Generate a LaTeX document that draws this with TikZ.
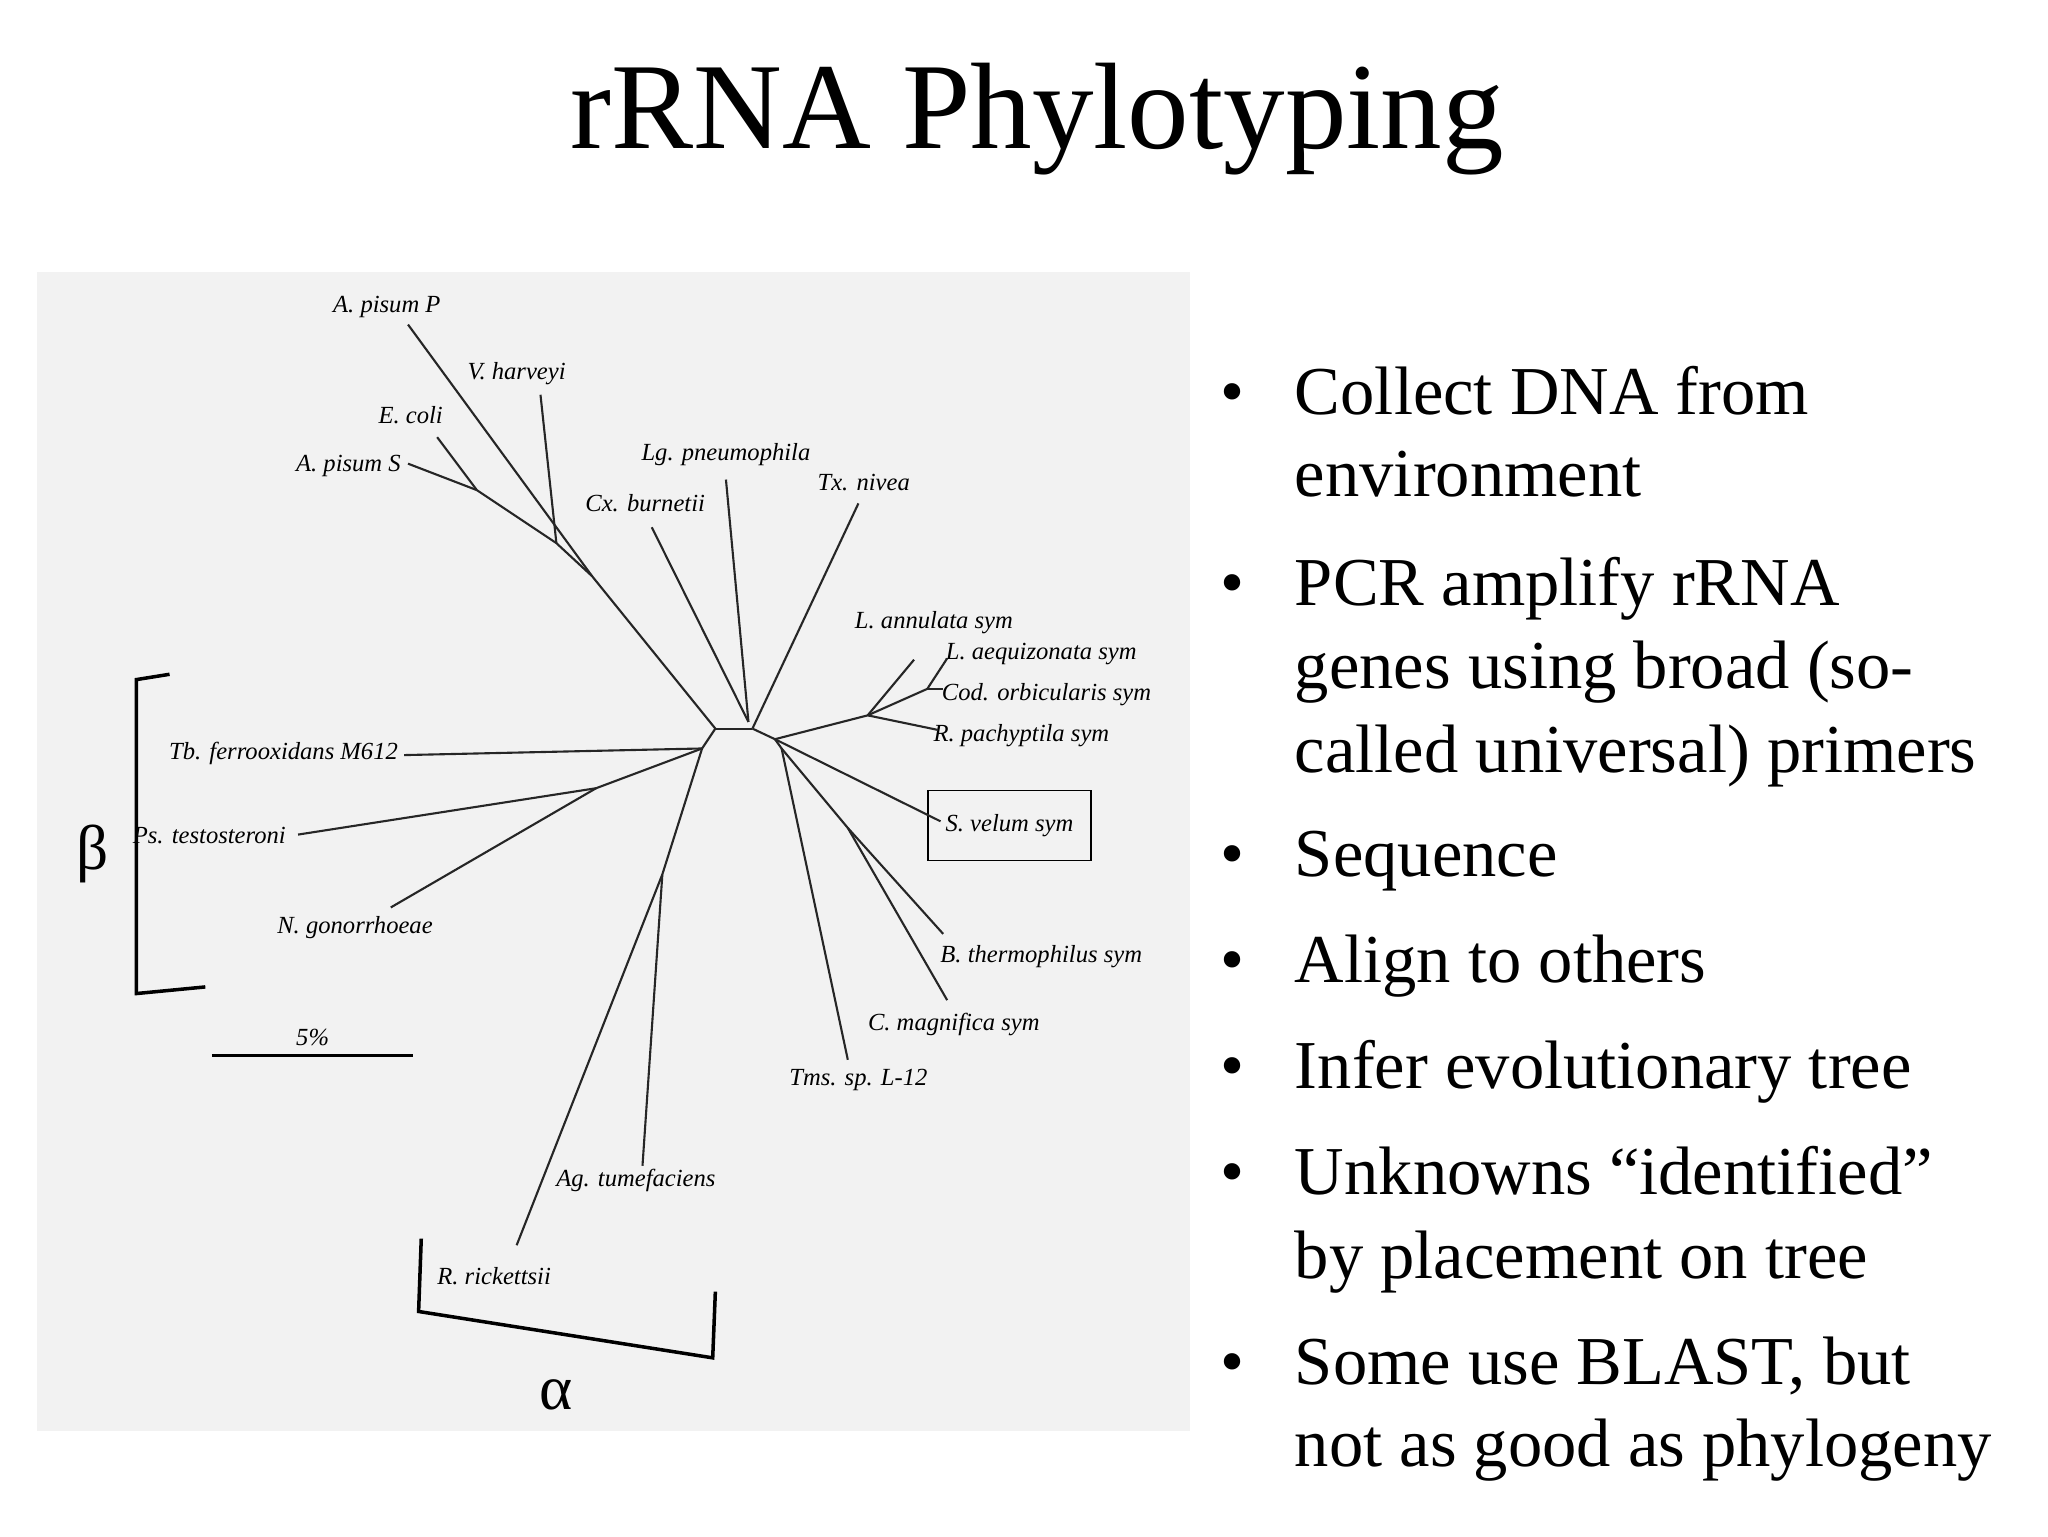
\documentclass[tikz,border=0pt]{standalone}
\usepackage{fontspec}
\setmainfont{Liberation Serif}
\begin{document}
\begin{tikzpicture}[x=0.013247cm,y=-0.013247cm,
 br/.style={line width=0.6pt,black!85},
 lb/.style={font=\fontsize{7}{8}\selectfont\itshape,inner sep=1pt},
 bl/.style={font=\fontsize{19.5}{22}\selectfont,anchor=base west,inner sep=0pt},
 bu/.style={font=\fontsize{19.5}{22}\selectfont,anchor=base,inner sep=0pt}]
\useasboundingbox (0,0) rectangle (1546,1160);
\fill[white] (0,0) rectangle (1546,1160);
\fill[black!5] (28,205) rectangle (898,1080);
\node[font=\fontsize{35}{40}\selectfont] (title) at (783,90) {rRNA Phylotyping};
% internal nodes
\coordinate (L) at (540,550); \coordinate (R) at (568,550);
\coordinate (U) at (447,435); \coordinate (U2) at (420,410); \coordinate (U3) at (360,370);
\coordinate (Q) at (585,558); \coordinate (H) at (655,540); \coordinate (H2) at (700,520);
\coordinate (D) at (590,565); \coordinate (D2) at (640,625);
\coordinate (W) at (530,565); \coordinate (W2) at (450,595); \coordinate (V) at (500,660);
% labels
\node[lb] (apP) at (292,232) {A. pisum P};
\node[lb] (vh) at (390,282) {V. harveyi};
\node[lb] (ec) at (310,313) {E. coli};
\node[lb] (apS) at (263,352) {A. pisum S};
\node[lb] (lg) at (548,343) {Lg. pneumophila};
\node[lb] (tx) at (652,364) {Tx. nivea};
\node[lb] (cx) at (487,380) {Cx. burnetii};
\node[lb] (la) at (705,470) {L. annulata sym};
\node[lb] (laq) at (786,494) {L. aequizonata sym};
\node[lb] (cod) at (790,524) {Cod. orbicularis sym};
\node[lb] (rp) at (771,555) {R. pachyptila sym};
\node[lb,draw,minimum width=98*0.375pt,minimum height=53*0.375pt,inner sep=5pt] (sv) at (762,623) {S. velum sym};
\node[lb] (bt) at (786,722) {B. thermophilus sym};
\node[lb] (cm) at (720,773) {C. magnifica sym};
\node[lb] (tms) at (648,815) {Tms. sp. L-12};
\node[lb] (tb) at (214,569) {Tb. ferrooxidans M612};
\node[lb] (ps) at (158,631) {Ps. testosteroni};
\node[lb] (ng) at (268,700) {N. gonorrhoeae};
\node[lb] (ag) at (480,891) {Ag. tumefaciens};
\node[lb] (rr) at (373,963) {R. rickettsii};
\node[lb] (pc) at (236,783) {5\%};
% branches
\draw[br] (L) -- (R);
\draw[br] (L) -- (U) -- (U2) -- (U3);
\draw[br] (U) -- (308,245);
\draw[br] (U2) -- (408,298);
\draw[br] (U3) -- (330,330);
\draw[br] (U3) -- (308,350);
\draw[br] (565,545) -- (492,398);
\draw[br] (565,545) -- (548,362);
\draw[br] (R) -- (648,380);
\draw[br] (R) -- (Q) -- (H) -- (H2) -- (715,497);
\draw[br] (H2) -- (712,520);
\draw[br] (H) -- (690,498);
\draw[br] (H) -- (708,551);
\draw[br] (Q) -- (710,620);
\draw[br] (Q) -- (D) -- (D2) -- (712,705);
\draw[br] (D2) -- (715,755);
\draw[br] (D) -- (640,800);
\draw[br] (L) -- (W) -- (305,570);
\draw[br] (W) -- (W2) -- (225,630);
\draw[br] (W2) -- (295,685);
\draw[br] (W) -- (V) -- (485,880);
\draw[br] (V) -- (390,940);
% brackets and scale
\draw[line width=1pt] (128,509) -- (103,513) -- (103,750) -- (155,745);
\node[font=\fontsize{18}{20}\selectfont] (beta) at (70,645) {β};
\draw[line width=1pt] (318,935) -- (316,990) -- (538,1025) -- (540,975);
\node[font=\fontsize{18}{20}\selectfont] (alpha) at (420,1053) {α};
\draw[line width=0.8pt] (160,797) -- (312,797);
% bullets
\foreach \y in {313,457,662,742,822,902,1045} \node[bu] at (930,\y) {\textbullet};
\node[bl] at (977,313) {Collect DNA from};
\node[bl] at (977,375) {environment};
\node[bl] at (977,457) {PCR amplify rRNA};
\node[bl] at (977,520) {genes using broad (so-};
\node[bl] at (977,583) {called universal) primers};
\node[bl] at (977,662) {Sequence};
\node[bl] at (977,742) {Align to others};
\node[bl] at (977,822) {Infer evolutionary tree};
\node[bl] at (977,902) {Unknowns “identified”};
\node[bl] at (977,965) {by placement on tree};
\node[bl] at (977,1045) {Some use BLAST, but};
\node[bl] at (977,1107) {not as good as phylogeny};
\end{tikzpicture}
\end{document}
